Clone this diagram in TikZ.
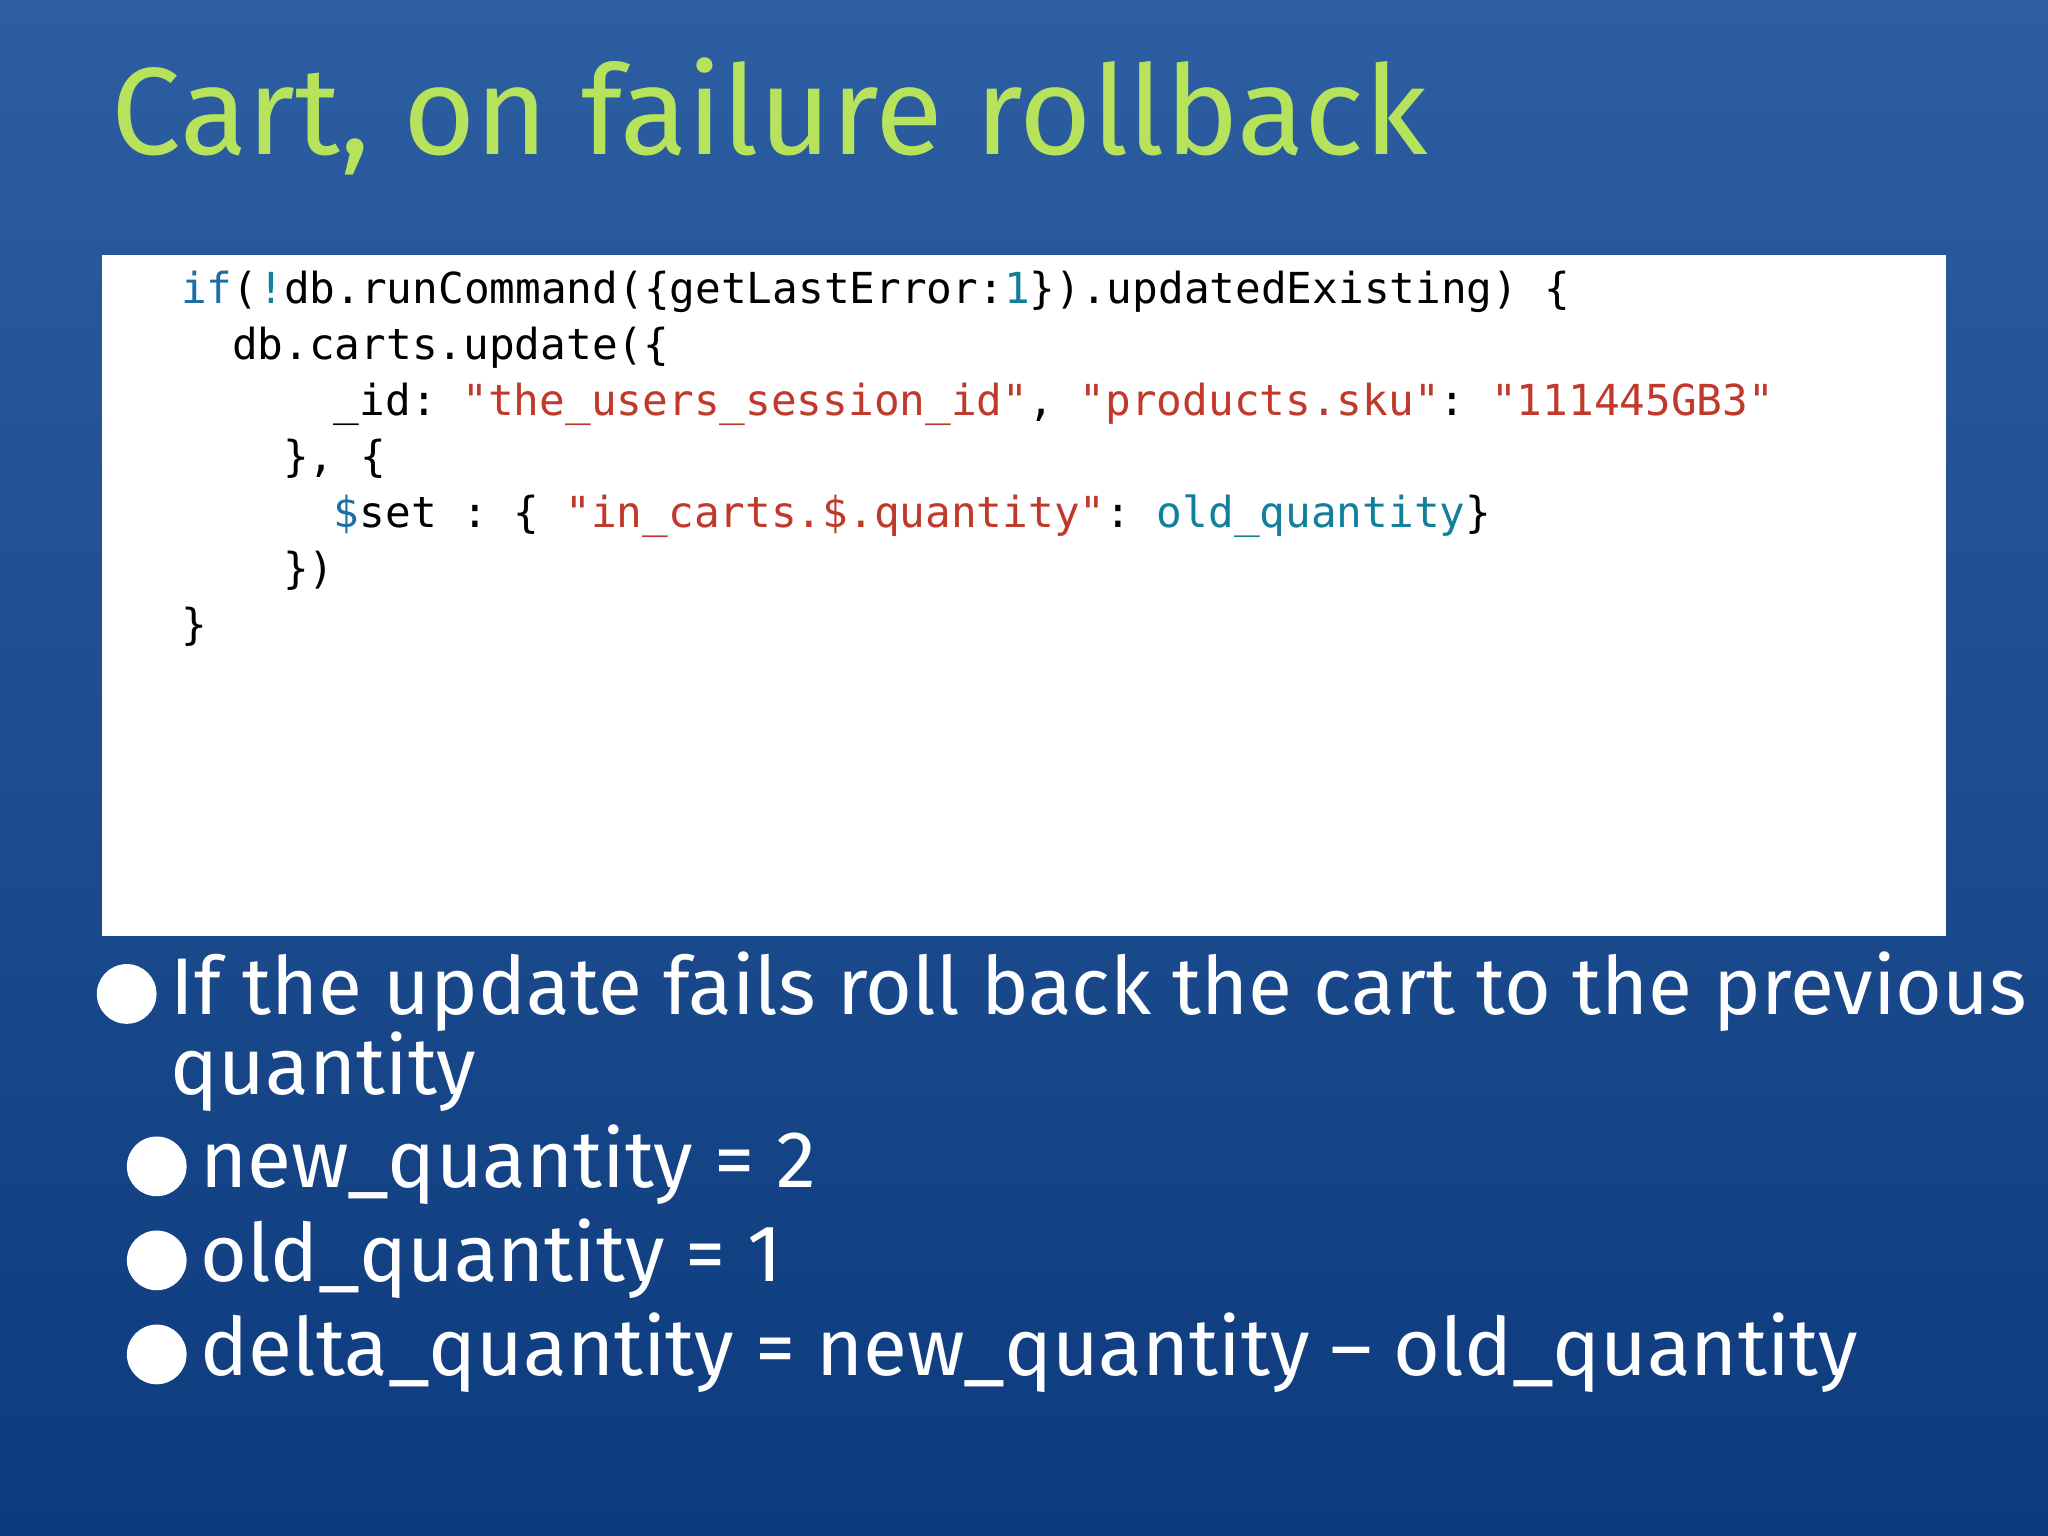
\documentclass[tikz,border=0pt]{standalone}
\usepackage{fontspec}
\setmainfont{Fira Sans}
\setmonofont{DejaVu Sans Mono}
\definecolor{bgtop}{HTML}{2D5EA2}
\definecolor{bgbot}{HTML}{0D3B7D}
\definecolor{ttl}{HTML}{B6E25C}
\definecolor{kw}{HTML}{1E6EA6}
\definecolor{str}{HTML}{C0392B}
\definecolor{tl}{HTML}{12809A}
\begin{document}
\begin{tikzpicture}[x=0.01cm,y=-0.01cm,
  code/.style={anchor=base west,inner sep=0,font=\ttfamily\fontsize{9.3pt}{11pt}\selectfont,text=black},
  bul/.style={anchor=base west,inner sep=0,font=\fontsize{17.5pt}{21pt}\selectfont,text=white},
  dot/.style={circle,fill=white,inner sep=0,minimum size=#1}]
\shade[top color=bgtop,bottom color=bgbot] (0,0) rectangle (1568,1176);
\useasboundingbox (0,0) rectangle (1568,1176);
\node[anchor=base west,inner sep=0,text=ttl,font=\fontsize{27pt}{32pt}\selectfont] (title) at (85,118) {Cart, on failure rollback};
\fill[white] (78,195) rectangle (1490,717);
\node[code] (l1) at (138,232) {\textcolor{kw}{if}(\textcolor{tl}{!}db.runCommand(\{getLastError:\textcolor{tl}{1}\}).updatedExisting) \{};
\node[code] (l2) at (177,275) {db.carts.update(\{};
\node[code] (l3) at (255,318) {\_id: \textcolor{str}{"the\_users\_session\_id"}, \textcolor{str}{"products.sku"}: \textcolor{str}{"111445GB3"}};
\node[code] (l4) at (216,361) {\}, \{};
\node[code] (l5) at (255,404) {\textcolor{kw}{\$}set : \{ \textcolor{str}{"in\_carts.\$.quantity"}: \textcolor{tl}{old\_quantity}\}};
\node[code] (l6) at (216,447) {\})};
\node[code] (l7) at (138,490) {\}};
\node[dot=13] (d1) at (97,761) {};
\node[bul] (b1) at (130,777) {If the update fails roll back the cart to the previous};
\node[bul] (b1b) at (130,838) {quantity};
\node[dot=13] (d2) at (120,893) {};
\node[bul] (b2) at (153,909) {new\_quantity = 2};
\node[dot=13] (d3) at (120,965) {};
\node[bul] (b3) at (153,981) {old\_quantity = 1};
\node[dot=13] (d4) at (120,1037) {};
\node[bul] (b4) at (153,1053) {delta\_quantity = new\_quantity – old\_quantity};
\end{tikzpicture}
\end{document}
